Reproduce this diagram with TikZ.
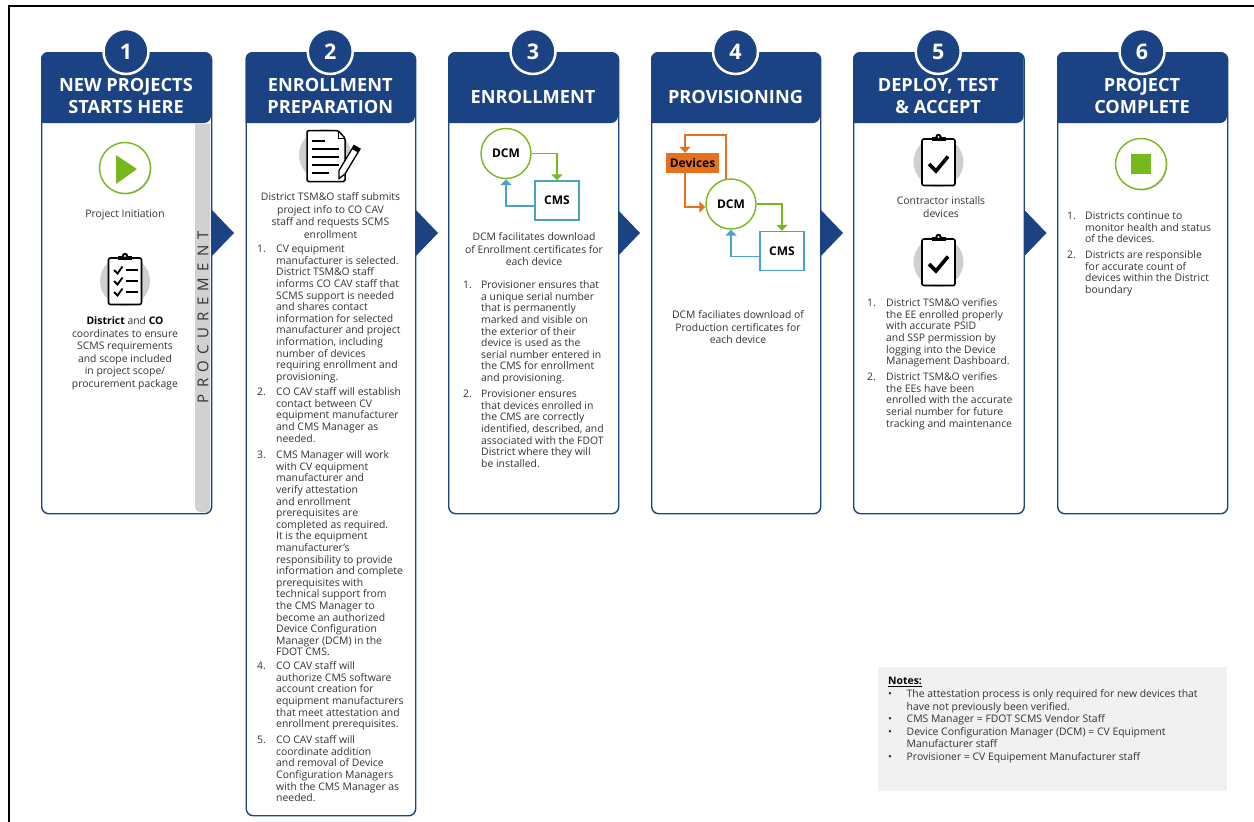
\documentclass[tikz,border=0pt]{standalone}
\usepackage{fontspec}
\setmainfont{Open Sans}
\usetikzlibrary{arrows.meta}
\definecolor{navy}{HTML}{1B4384}
\definecolor{leaf}{HTML}{76B81E}
\definecolor{sky}{HTML}{4BA3C3}
\definecolor{tangerine}{HTML}{E5711F}
\definecolor{body}{HTML}{333333}
\definecolor{stripgray}{HTML}{D2D0D0}
\definecolor{icongray}{HTML}{CFCFCF}
\definecolor{notegray}{HTML}{F1F1F1}
\tikzset{
  x=1pt,y=-1pt,
  cardbox/.style={draw=navy,line width=1.4pt,fill=white,rounded corners=7pt,inner sep=0pt,anchor=north west},
  numdisc/.style={circle,fill=navy,draw=white,line width=2.5pt,minimum size=45pt,inner sep=0pt,text=white,font={\fontsize{21.5}{23}\selectfont\bfseries}},
  headtext/.style={text=white,align=center,inner sep=0pt,font={\fontsize{18.2}{22}\selectfont\bfseries}},
  txt/.style={text=body,inner sep=0pt,anchor=north,align=center,font={\fontsize{10.4}{12.5}\selectfont\lineskiplimit=-10pt\relax}},
  lst/.style={text=body,inner sep=0pt,anchor=north west,align=left,font={\fontsize{10.4}{11.6}\selectfont\lineskiplimit=-10pt\relax}},
  nte/.style={text=body,inner sep=0pt,anchor=north west,align=left,font={\fontsize{10.4}{12.5}\selectfont\lineskiplimit=-10pt\relax}},
  ringnode/.style={circle,draw=leaf,line width=1.4pt,fill=white,minimum size=50pt,inner sep=0pt,text=black,font={\fontsize{12}{14}\selectfont\bfseries}},
  cmsnode/.style={draw=sky,line width=1.4pt,fill=white,minimum width=44pt,minimum height=39pt,inner sep=0pt,text=black,font={\fontsize{12}{14}\selectfont\bfseries}},
  devnode/.style={fill=tangerine,minimum width=53pt,minimum height=20pt,inner sep=0pt,text=black,font={\fontsize{12}{14}\selectfont\bfseries}},
  flow/.style={line width=1.6pt,-{Triangle[length=6pt,width=11pt]}},
}
\newcommand{\fl}{\rule{0pt}{9pt}}
\newcommand{\card}[6]{% name, x1, x2, bottom, number, title
  \node[cardbox,minimum width=#3pt-#2pt,minimum height=#4pt-52pt] (card#1) at (#2,52) {};
  \fill[navy] (#2,123) {[rounded corners=7pt] -- (#2,52) -- (#3,52) -- (#3,123)} -- cycle;
  \node[numdisc] (num#1) at ({(#2+#3)/2},51.5) {#5};
  \node[headtext] (title#1) at ({(#2+#3)/2},#6) }
\newcommand{\chevron}[2]{\fill[navy] (#1,#2-24) -- (#1+23,#2) -- (#1,#2+24) -- cycle;}
\newcommand{\tb}[4]{\node[txt] (#1) at (#2,#3-5.5) {\fl #4};}
\newcommand{\li}[6]{% name, xnum, xtext, y, number, text
  \node[lst] (#1n) at (#2,#4-5.5) {\fl #5.};
  \node[lst] (#1) at (#3,#4-5.5) {\fl #6};}
\newcommand{\clipicon}[3]{% x, y, contents
  \begin{scope}[shift={(#1,#2)}]
    \fill[icongray] (0,0) circle (25);
    \draw[black,line width=1.6pt,fill=white,rounded corners=2pt] (-16.5,-23) rectangle (16.5,23.5);
    \fill[black] (0,-25) circle (3.2);
    \fill[black] (-7,-25) rectangle (7,-21);
    \fill[white] (0,-25) circle (1.1);
    #3
  \end{scope}}
\begin{document}
\begin{tikzpicture}
\useasboundingbox (0,0) rectangle (1254,822);
\fill[white] (0,0) rectangle (1254,822);
% frame
\draw[black,line width=1.2pt] (9,822) -- (9,6) -- (1254,6);

% chevrons
\chevron{211}{233}
\chevron{415}{233}
\chevron{617}{233}
\chevron{820}{233}
\chevron{1023.5}{233}

% cards
\card{1}{41}{211}{513}{1}{96} {NEW PROJECTS\\STARTS HERE};
\card{2}{245.5}{415}{815}{2}{96} {ENROLLMENT\\PREPARATION};
\card{3}{448}{618}{513}{3}{97} {ENROLLMENT};
\card{4}{651}{820}{513}{4}{97} {PROVISIONING};
\card{5}{853}{1023.5}{513}{5}{96} {DEPLOY, TEST\\\& ACCEPT};
\card{6}{1057}{1227}{513}{6}{96} {PROJECT\\COMPLETE};

% column 1
\fill[stripgray] (195,123.7) -- (210.3,123.7) {[rounded corners=6pt] -- (210.3,512.3) -- (195,512.3)} -- cycle;
\node[rotate=90,text=body,inner sep=0pt,font={\fontsize{15}{17}\selectfont\addfontfeature{LetterSpace=42}}] (proc) at (203,317) {PROCUREMENT};
\fill[icongray] (126,169) circle (25.5);
\draw[leaf,line width=1.4pt,fill=white] (125,168) circle (25.5);
\fill[leaf] (116,155) -- (137,169) -- (116,184) -- cycle;
\tb{t11}{125}{214}{Project Initiation}
\clipicon{125}{281}{
  \foreach \yy in {-11,0,11}{
    \draw[black,line width=1.8pt] (-11,\yy) -- (-7.5,\yy+3.5) -- (-2.5,\yy-3.5);
    \draw[black,line width=1.1pt] (0.5,\yy) -- (13,\yy);
  }
}
\tb{t12}{125}{321}{\textbf{\color{black}District} and \textbf{\color{black}CO}\\coordinates to ensure\\SCMS requirements\\and scope included\\in project scope/\\procurement package}

% column 2
\fill[icongray] (325,155) circle (26);
\draw[black,line width=1.5pt,fill=white,rounded corners=1.5pt] (307,130.5) -- (338,130.5) -- (345,138) -- (345,181.5) -- (307,181.5) -- cycle;
\draw[black,line width=1pt] (338,130.5) -- (338,138) -- (345,138);
\foreach \yy/\xe in {141/325,149/339,157/339,165/339,173/329}{\draw[black,line width=1.3pt] (312,\yy) -- (\xe,\yy);}
\draw[black,line width=1.3pt,fill=white] (354,145.5) -- (360,149) -- (345,174) -- (339,178.5) -- (339,170.5) -- cycle;
\fill[black] (354,145.5) -- (360,149) -- (358,152.5) -- (352,149) -- cycle;
\tb{t21}{330.5}{197}{District TSM\&O staff submits\\project info to CO CAV\\staff and requests SCMS\\enrollment}
\li{l21}{257}{276}{249}{1}{CV equipment\\manufacturer is selected.\\District TSM\&O staff\\informs CO CAV staff that\\SCMS support is needed\\and shares contact\\information for selected\\manufacturer and project\\information, including\\number of devices\\requiring enrollment and\\provisioning.}
\li{l22}{257}{276}{392}{2}{CO CAV staff will establish\\contact between CV\\equipment manufacturer\\and CMS Manager as\\needed.}
\li{l23}{257}{276}{455}{3}{CMS Manager will work\\with CV equipment\\manufacturer and\\verify attestation\\and enrollment\\prerequisites are\\completed as required.\\It is the equipment\\manufacturer's\\responsibility to provide\\information and complete\\prerequisites with\\technical support from\\the CMS Manager to\\become an authorized\\Device Configuration\\Manager (DCM) in the\\FDOT CMS.}
\li{l24}{257}{276}{666}{4}{CO CAV staff will\\authorize CMS software\\account creation for\\equipment manufacturers\\that meet attestation and\\enrollment prerequisites.}
\li{l25}{257}{276}{740}{5}{CO CAV staff will\\coordinate addition\\and removal of Device\\Configuration Managers\\with the CMS Manager as\\needed.}

% column 3
\node[ringnode] (dcm3) at (506,153.5) {DCM};
\node[cmsnode] (cms3) at (557,200.5) {CMS};
\draw[flow,leaf] (dcm3.east) -| (cms3.north);
\draw[flow,sky] ([yshift=-5.5pt]cms3.west) -| (dcm3.south);
\tb{t31}{534}{237}{DCM facilitates download\\of Enrollment certificates for\\each device}
\li{l31}{463}{481}{285}{1}{Provisioner ensures that\\a unique serial number\\that is permanently\\marked and visible on\\the exterior of their\\device is used as the\\serial number entered in\\the CMS for enrollment\\and provisioning.}
\li{l32}{463}{481}{394}{2}{Provisioner ensures\\that devices enrolled in\\the CMS are correctly\\identified, described, and\\associated with the FDOT\\District where they will\\be installed.}

% column 4
\node[devnode] (dev4) at (692.5,163) {Devices};
\node[ringnode] (dcm4) at (731,204) {DCM};
\node[cmsnode] (cms4) at (782,251) {CMS};
\coordinate (loop4) at (685,135);
\draw[flow,tangerine] (dcm4.101) |- (loop4) -- ([xshift=-7.5pt]dev4.north);
\draw[flow,tangerine] ([xshift=-7.5pt]dev4.south) |- ([yshift=-3pt]dcm4.west);
\draw[flow,leaf] (dcm4.east) -| (cms4.north);
\draw[flow,sky] ([yshift=-5.5pt]cms4.west) -| (dcm4.south);
\tb{t41}{738}{315}{DCM faciliates download of\\Production certificates for\\each device}

% column 5
\clipicon{938.5}{162}{
  \draw[black,line width=3.6pt] (-9.5,2) -- (-2.5,9) -- (9.5,-5.5);
}
\tb{t51}{941}{201}{Contractor installs\\devices}
\clipicon{938.5}{262}{
  \draw[black,line width=3.6pt] (-9.5,2) -- (-2.5,9) -- (9.5,-5.5);
}
\li{l51}{867}{886}{303}{1}{District TSM\&O verifies\\the EE enrolled properly\\with accurate PSID\\and SSP permission by\\logging into the Device\\Management Dashboard.}
\li{l52}{867}{886}{377}{2}{District TSM\&O verifies\\the EEs have been\\enrolled with the accurate\\serial number for future\\tracking and maintenance}

% column 6
\fill[icongray] (1142,165) circle (25.5);
\draw[leaf,line width=1.4pt,fill=white] (1141,164) circle (25.5);
\fill[leaf] (1131,154) rectangle (1150.5,173.5);
\li{l61}{1067}{1085}{216}{1}{Districts continue to\\monitor health and status\\of the devices.}
\li{l62}{1067}{1085}{255}{2}{Districts are responsible\\for accurate count of\\devices within the District\\boundary}

% notes
\fill[notegray] (878,667) rectangle (1227,791);
\node[nte] (n0) at (888,681-5.5) {\fl \textbf{\color{black}\underline{Notes:}}};
\node[nte] (b1) at (888,694-5.5) {\fl •};
\node[nte] (n1) at (906.5,694-5.5) {\fl The attestation process is only required for new devices that\\have not previously been verified.};
\node[nte] (b2) at (888,719-5.5) {\fl •};
\node[nte] (n2) at (906.5,719-5.5) {\fl CMS Manager = FDOT SCMS Vendor Staff};
\node[nte] (b3) at (888,731.5-5.5) {\fl •};
\node[nte] (n3) at (906.5,731.5-5.5) {\fl Device Configuration Manager (DCM) = CV Equipment\\Manufacturer staff};
\node[nte] (b4) at (888,756.5-5.5) {\fl •};
\node[nte] (n4) at (906.5,756.5-5.5) {\fl Provisioner = CV Equipement Manufacturer staff};
\end{tikzpicture}
\end{document}
